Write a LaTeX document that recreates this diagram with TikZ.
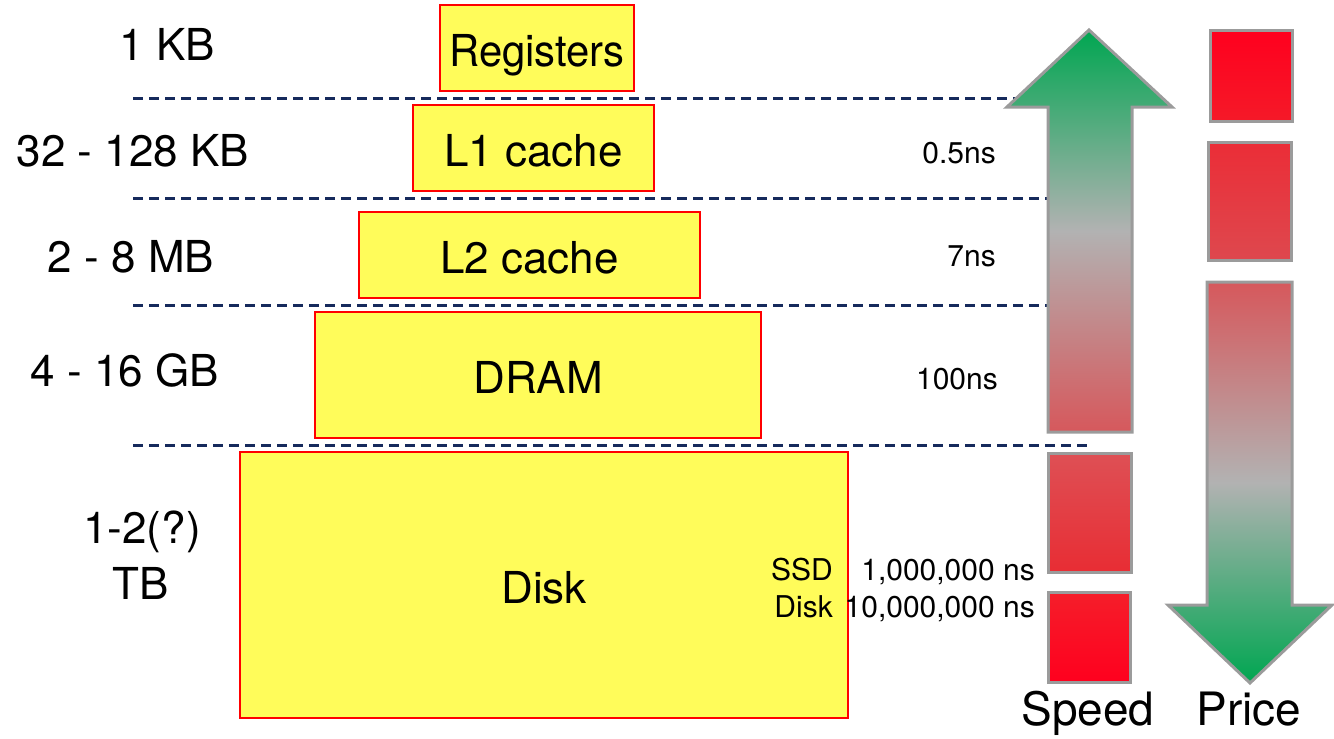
\documentclass[tikz,border=0pt]{standalone}
\usepackage{fontspec}
\setmainfont{TeX Gyre Heros}
\definecolor{boxyellow}{RGB}{255,252,90}
\definecolor{boxred}{RGB}{255,0,0}
\definecolor{linenavy}{RGB}{22,42,92}
\definecolor{arrowgray}{RGB}{155,155,155}
\definecolor{fastgreen}{RGB}{0,166,81}
\definecolor{midgray}{RGB}{178,178,178}
\definecolor{slowred}{RGB}{214,88,92}
\tikzset{
  membox/.style={draw=boxred, fill=boxyellow, line width=2.5pt, inner sep=0pt,
    text height=36pt, text depth=0pt, font=\fontsize{44}{48}\selectfont},
  sizelabel/.style={anchor=base, inner sep=0pt, font=\fontsize{44}{48}\selectfont},
  timelabel/.style={anchor=base east, inner sep=0pt, font=\fontsize{30}{34}\selectfont},
  level/.style={draw=linenavy, line width=3pt, dash pattern=on 10pt off 6pt},
  bar/.style={draw=arrowgray, line width=3pt},
}
\begin{document}
\begin{tikzpicture}[x=1pt, y=-1pt]
  \useasboundingbox (0,0) rectangle (1334,739);

  \node[membox, minimum width=194, minimum height=86] (reg) at (537,48) {\scalebox{0.95}[1]{Registers}};
  \node[membox, minimum width=241, minimum height=86] (l1) at (533.5,148) {L1 cache};
  \node[membox, minimum width=341, minimum height=86] (l2) at (529.5,255) {L2 cache};
  \node[membox, minimum width=446, minimum height=126] (dram) at (538,375) {DRAM};
  \node[membox, minimum width=608, minimum height=266] (disk) at (544,585) {Disk};

  \node[sizelabel] (regsize) at (167,60) {1 KB};
  \node[sizelabel] (l1size) at (133,166) {32 - 128 KB};
  \node[sizelabel] (l2size) at (131,272) {2 - 8 MB};
  \node[sizelabel] (dramsize) at (125,386) {4 - 16 GB};
  \node[sizelabel] (disksize) at (142,543) {1-2(?)};
  \node[sizelabel] (diskunit) at (141,599) {TB};

  \node[timelabel] (l1time) at (996,163) {0.5ns};
  \node[timelabel] (l2time) at (996,266) {7ns};
  \node[timelabel] (dramtime) at (998,389) {100ns};
  \node[timelabel] (ssdname) at (833,580) {SSD};
  \node[timelabel] (hddname) at (833,617) {Disk};
  \node[timelabel] (ssdtime) at (1035,580) {1,000,000 ns};
  \node[timelabel] (hddtime) at (1035,617) {10,000,000 ns};

  \coordinate (lv1w) at (133,98);  \coordinate (lv1e) at (1015,98);
  \coordinate (lv2w) at (133,198); \coordinate (lv2e) at (1047,198);
  \coordinate (lv3w) at (133,305); \coordinate (lv3e) at (1047,305);
  \coordinate (lv4w) at (133,445); \coordinate (lv4e) at (1090,445);
  \draw[level] (lv1w) -- (lv1e);
  \draw[level] (lv2w) -- (lv2e);
  \draw[level] (lv3w) -- (lv3e);
  \draw[level] (lv4w) -- (lv4e);

  \shadedraw[bar, top color=fastgreen, bottom color=slowred, middle color=midgray]
    (1089,30) -- (1172,107) -- (1132,107) -- (1132,432) -- (1048,432)
    -- (1048,107) -- (1007,107) -- cycle;
  \shadedraw[bar, top color={rgb,255:red,222;green,80;blue,85}, bottom color={rgb,255:red,232;green,45;blue,52}]
    (1048,453) rectangle (1131,572);
  \shadedraw[bar, top color={rgb,255:red,245;green,30;blue,42}, bottom color={rgb,255:red,255;green,0;blue,30}]
    (1048,592) rectangle (1130,682);

  \shadedraw[bar, top color={rgb,255:red,255;green,0;blue,30}, bottom color={rgb,255:red,245;green,25;blue,40}]
    (1210,30) rectangle (1292,121);
  \shadedraw[bar, top color={rgb,255:red,235;green,45;blue,55}, bottom color={rgb,255:red,222;green,72;blue,78}]
    (1208,142) rectangle (1291,260);
  \shadedraw[bar, top color=slowred, bottom color=fastgreen, middle color=midgray]
    (1207,282) -- (1292,282) -- (1292,605) -- (1332,605) -- (1250,683)
    -- (1168,605) -- (1207,605) -- cycle;

  \node[sizelabel, font=\fontsize{46}{50}\selectfont] (speed) at (1088,725) {Speed};
  \node[sizelabel, font=\fontsize{46}{50}\selectfont] (price) at (1249,725) {Price};
\end{tikzpicture}
\end{document}
